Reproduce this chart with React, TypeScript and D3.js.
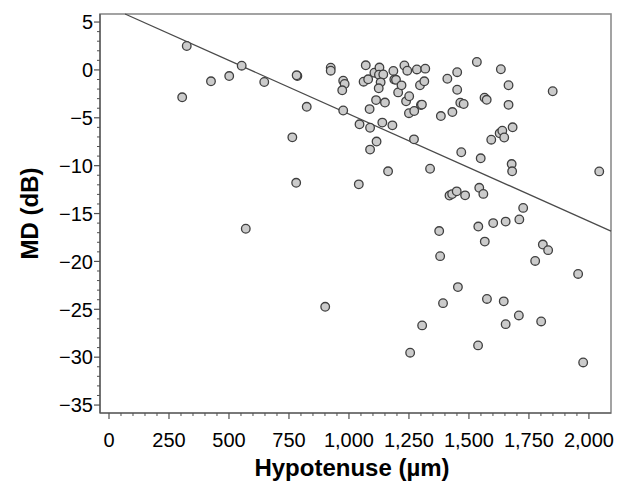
import React from "react";
import * as d3 from "d3";

// Hypotenuse (µm)
const hypotenuse: number[] = [
  324, 305, 425, 501, 553, 647, 785, 782, 824, 924, 924, 976, 982, 972, 976, 764, 780,
  1044, 1041, 1061, 1080, 1070, 1106, 1127, 1125, 1143, 1132, 1124, 1113, 1150, 1086, 1088,
  1139, 1181, 1115, 1088, 1163, 1185, 1189, 1196, 1205, 1219, 1231, 1243, 1238, 1251, 1250,
  1272, 1300, 1304, 1283, 1318, 1296, 1314, 1271, 1338, 1383, 1410, 1431, 1451, 1451, 1464,
  1478, 1468, 1533, 1549, 1565, 1574, 1593, 1633, 1628, 1639, 1647, 1682, 1665, 1665, 1678,
  1680, 1849, 2043, 1419, 1430, 1449, 1484, 1543, 1560, 1726, 1539, 1601, 1653, 1710, 1376,
  1566, 1808, 1830, 1380, 1776, 1955, 1454, 1575, 1645, 1392, 1708, 1653, 1801, 1305, 1538,
  1255, 1976, 570, 901,
];

// MD (dB)
const md: number[] = [
  2.5, -2.86, -1.19, -0.64, 0.44, -1.26, -0.64, -0.56, -3.85, 0.23, -0.08, -1.13, -1.47, -2.13, -4.24, -7.04, -11.79,
  -5.68, -11.95, -1.23, -0.98, 0.48, -0.29, 0.25, -0.5, -0.48, -1.3, -1.92, -3.15, -3.41, -4.09, -6.04,
  -5.5, -5.79, -7.48, -8.32, -10.59, -0.11, -1.01, -1.03, -2.35, -1.61, 0.46, -0.08, -3.28, -2.75, -4.52,
  -4.29, -3.67, -3.62, 0.05, 0.13, -1.6, -1.19, -7.25, -10.32, -4.82, -0.92, -4.4, -0.24, -2.07, -3.43,
  -3.56, -8.6, 0.83, -9.23, -2.9, -3.12, -7.29, 0.07, -6.62, -6.35, -7.06, -5.99, -1.6, -3.65, -9.83,
  -10.59, -2.23, -10.6, -13.12, -12.97, -12.68, -13.1, -12.31, -12.95, -14.41, -16.36, -16.0, -15.84, -15.61, -16.83,
  -17.93, -18.24, -18.82, -19.45, -19.95, -21.31, -22.68, -23.92, -24.17, -24.36, -25.64, -26.55, -26.27, -26.68, -28.77,
  -29.53, -30.55, -16.59, -24.74,
];

// Linear fit: MD = intercept + slope * hypotenuse
const fitIntercept = 6.59;
const fitSlope = -0.011195;

const xTicks: number[] = [0, 250, 500, 750, 1000, 1250, 1500, 1750, 2000];
const yTicks: number[] = [5, 0, -5, -10, -15, -20, -25, -30, -35];

const W = 626;
const H = 482;
const L = 100;
const R = 611;
const T = 14;
const B = 413;

export default function App() {
  const x = d3.scaleLinear().domain([-37.5, 2092]).range([L, R]);
  const y = d3.scaleLinear().domain([-35.83, 5.84]).range([B, T]);

  const xMinor = d3.range(0, 2001, 50).filter((v) => v % 250 !== 0);
  const yMinor = d3.range(-35, 6, 1).filter((v) => v % 5 !== 0);

  const fmtX = d3.format(",");
  const fmtY = (v: number) => (v < 0 ? "\u2212" + Math.abs(v) : String(v));

  const x0 = (y.domain()[1] - fitIntercept) / fitSlope;
  const x1 = x.domain()[1];
  const line = d3.line<number>()
    .x((v) => x(v))
    .y((v) => y(fitIntercept + fitSlope * v));

  const font = "'Liberation Sans', Arial, Helvetica, sans-serif";
  const axisColor = "#505050";

  return (
    <svg
      width={W}
      height={H}
      style={{ position: "absolute", left: 0, top: 0, background: "#fff" }}
      fontFamily={font}
    >
      <rect x={L} y={T} width={R - L} height={B - T} fill="none" stroke="#8c8c8c" strokeWidth={1.6} />

      <path d={line([x0, x1]) || ""} stroke="#4a4a4a" strokeWidth={1.3} fill="none" />

      {hypotenuse.map((h, i) => (
        <circle
          key={i}
          cx={x(h)}
          cy={y(md[i])}
          r={4.3}
          fill="#cbcbcb"
          stroke="#3f3f3f"
          strokeWidth={1.3}
        />
      ))}

      <line x1={L} x2={L} y1={T} y2={B} stroke={axisColor} strokeWidth={1.2} />
      {yTicks.map((t) => (
        <g key={"yt" + t}>
          <line x1={L - 6} x2={L} y1={y(t)} y2={y(t)} stroke={axisColor} strokeWidth={1.2} />
          <text x={L - 7} y={y(t)} dy="0.36em" textAnchor="end" fontSize={20} fill="#000">
            {fmtY(t)}
          </text>
        </g>
      ))}
      {yMinor.map((t) => (
        <line key={"ym" + t} x1={L - 3} x2={L} y1={y(t)} y2={y(t)} stroke={axisColor} strokeWidth={1} />
      ))}

      <line x1={L} x2={R} y1={B} y2={B} stroke={axisColor} strokeWidth={1.2} />
      {xTicks.map((t) => (
        <g key={"xt" + t}>
          <line x1={x(t)} x2={x(t)} y1={B} y2={B + 6} stroke={axisColor} strokeWidth={1.2} />
          <text x={x(t)} y={B + 34} textAnchor="middle" fontSize={20} fill="#000">
            {fmtX(t)}
          </text>
        </g>
      ))}
      {xMinor.map((t) => (
        <line key={"xm" + t} x1={x(t)} x2={x(t)} y1={B} y2={B + 3} stroke={axisColor} strokeWidth={1} />
      ))}

      <text x={352} y={476} textAnchor="middle" fontSize={24} fontWeight="bold" fill="#000">
        Hypotenuse (µm)
      </text>
      <text
        transform={`translate(38, ${(T + B) / 2}) rotate(-90)`}
        textAnchor="middle"
        fontSize={24}
        fontWeight="bold"
        fill="#000"
      >
        MD (dB)
      </text>
    </svg>
  );
}
